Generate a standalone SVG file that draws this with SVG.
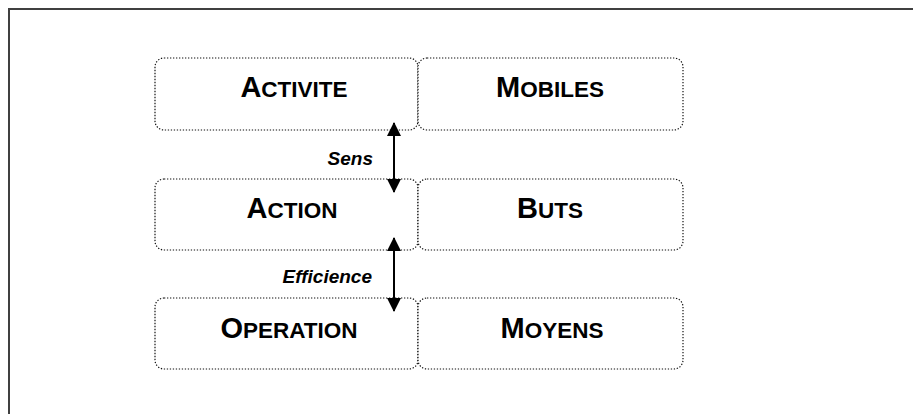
<svg xmlns="http://www.w3.org/2000/svg" width="913" height="414" viewBox="0 0 913 414">
<style>
.box{fill:#fff;stroke:#111;stroke-width:1.2;stroke-dasharray:1.3 1.7}
.t{font-family:"Liberation Sans",Arial,sans-serif;font-weight:bold;fill:#000;text-anchor:middle}
.big{font-size:29px}
.sm{font-size:22.5px}
.lab{font-family:"Liberation Sans",Arial,sans-serif;font-weight:bold;font-style:italic;font-size:19px;text-anchor:end;fill:#000}
.ar{stroke:#000;stroke-width:2;fill:none}
</style>
<defs>
<marker id="ah" viewBox="0 0 14 14" refX="13" refY="7" markerWidth="14" markerHeight="14" orient="auto-start-reverse" markerUnits="userSpaceOnUse">
<path d="M0,0 L14,7 L0,14 z" fill="#000"/>
</marker>
</defs>
<rect x="9" y="9" width="920" height="420" fill="#fff" stroke="#404040" stroke-width="2"/>
<g id="activite"><rect class="box" x="155" y="58" width="263" height="72" rx="9"/><text class="t" x="294" y="97"><tspan class="big">A</tspan><tspan class="sm">CTIVITE</tspan></text></g>
<g id="mobiles"><rect class="box" x="418" y="58" width="265" height="72" rx="9"/><text class="t" x="550" y="97"><tspan class="big">M</tspan><tspan class="sm">OBILES</tspan></text></g>
<g id="action"><rect class="box" x="155" y="179" width="263" height="71" rx="9"/><text class="t" x="292" y="218"><tspan class="big">A</tspan><tspan class="sm">CTION</tspan></text></g>
<g id="buts"><rect class="box" x="418" y="179" width="265" height="71" rx="9"/><text class="t" x="550" y="218"><tspan class="big">B</tspan><tspan class="sm">UTS</tspan></text></g>
<g id="operation"><rect class="box" x="155" y="298" width="263" height="71" rx="9"/><text class="t" x="289" y="338"><tspan class="big">O</tspan><tspan class="sm">PERATION</tspan></text></g>
<g id="moyens"><rect class="box" x="418" y="298" width="265" height="71" rx="9"/><text class="t" x="552" y="338"><tspan class="big">M</tspan><tspan class="sm">OYENS</tspan></text></g>
<g id="connectors">
<line class="ar" x1="394" y1="123" x2="394" y2="192" marker-start="url(#ah)" marker-end="url(#ah)"/>
<text class="lab" x="373" y="165">Sens</text>
<line class="ar" x1="394" y1="238" x2="394" y2="311" marker-start="url(#ah)" marker-end="url(#ah)"/>
<text class="lab" x="372" y="283">Efficience</text>
</g>
</svg>
